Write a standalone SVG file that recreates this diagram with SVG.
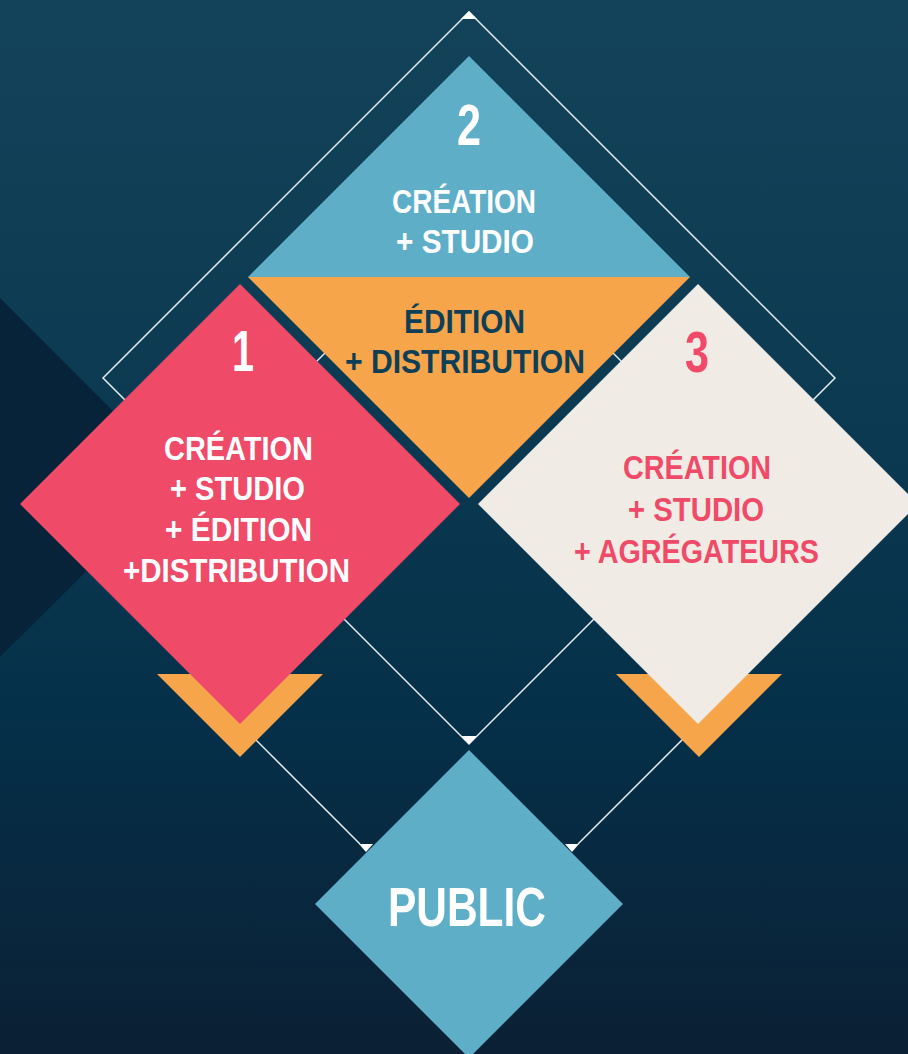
<svg xmlns="http://www.w3.org/2000/svg" width="908" height="1054" viewBox="0 0 908 1054">
  <defs>
    <linearGradient id="bg" x1="0" y1="0" x2="0" y2="1">
      <stop offset="0" stop-color="#13435a"/>
      <stop offset="0.45" stop-color="#0a3850"/>
      <stop offset="0.7" stop-color="#052f48"/>
      <stop offset="1" stop-color="#0b2034"/>
    </linearGradient>
    <style>
      .ln { fill: none; stroke: #e6edf1; stroke-width: 1.5; }
      .mk { fill: #ffffff; }
      .t { font-family: "Liberation Sans", Arial, sans-serif; font-weight: bold; text-anchor: middle; font-size: 34px; }
      .num { font-size: 57px; }
      .w { fill: #ffffff; }
      .d { fill: #0f3f57; }
      .p { fill: #ef4a68; }
    </style>
  </defs>

  <g id="background">
    <rect x="0" y="0" width="908" height="1054" fill="url(#bg)"/>
    <polygon points="0,298 180,478 0,657" fill="#072339"/>
  </g>

  <g id="connectors">
    <polygon class="ln" points="469,12 835,378 469,744 103,378"/>
    <line class="ln" x1="240" y1="724" x2="360" y2="844"/>
    <line class="ln" x1="698" y1="724" x2="578" y2="844"/>
    <line class="ln" x1="345" y1="333" x2="300" y2="378"/>
    <line class="ln" x1="593" y1="333" x2="638" y2="378"/>
    <polygon class="mk" points="461,19 477,19 469,11"/>
    <polygon class="mk" points="461,736 477,736 469,744"/>
    <polygon class="mk" points="359,844 373,844 366,852"/>
    <polygon class="mk" points="565,844 579,844 572,852"/>
  </g>

  <g id="node-2">
    <polygon points="469,56 690,277 248,277" fill="#5eaec8"/>
    <polygon points="248,277 690,277 469,498" fill="#f7a54a"/>
    <text class="t num w" x="469" y="145" textLength="24" lengthAdjust="spacingAndGlyphs">2</text>
    <text class="t w" x="464" y="213" textLength="144" lengthAdjust="spacingAndGlyphs">CRÉATION</text>
    <text class="t w" x="465" y="253" textLength="138" lengthAdjust="spacingAndGlyphs">+ STUDIO</text>
    <text class="t d" x="464.5" y="333" textLength="121" lengthAdjust="spacingAndGlyphs">ÉDITION</text>
    <text class="t d" x="465" y="373" textLength="240" lengthAdjust="spacingAndGlyphs">+ DISTRIBUTION</text>
  </g>

  <g id="node-1">
    <polygon points="157,674 323,674 240,757" fill="#f7a54a"/>
    <polygon points="240,284 460,504 240,724 20,504" fill="#ef4a68"/>
    <text class="t num w" x="243" y="371" textLength="22" lengthAdjust="spacingAndGlyphs">1</text>
    <text class="t w" x="238.5" y="460" textLength="149" lengthAdjust="spacingAndGlyphs">CRÉATION</text>
    <text class="t w" x="237.5" y="500" textLength="135" lengthAdjust="spacingAndGlyphs">+ STUDIO</text>
    <text class="t w" x="238.5" y="541" textLength="147" lengthAdjust="spacingAndGlyphs">+ ÉDITION</text>
    <text class="t w" x="236.5" y="582" textLength="227" lengthAdjust="spacingAndGlyphs">+DISTRIBUTION</text>
  </g>

  <g id="node-3">
    <polygon points="616,674 782,674 699,757" fill="#f7a54a"/>
    <polygon points="698,284 918,504 698,724 478,504" fill="#f0ebe4"/>
    <text class="t num p" x="697" y="372" textLength="24" lengthAdjust="spacingAndGlyphs">3</text>
    <text class="t p" x="697" y="479" textLength="148" lengthAdjust="spacingAndGlyphs">CRÉATION</text>
    <text class="t p" x="696" y="521" textLength="136" lengthAdjust="spacingAndGlyphs">+ STUDIO</text>
    <text class="t p" x="696.5" y="563" textLength="245" lengthAdjust="spacingAndGlyphs">+ AGRÉGATEURS</text>
  </g>

  <g id="node-public">
    <polygon points="469,750 623,904 469,1058 315,904" fill="#5eaec8"/>
    <text class="t w" x="467" y="926" style="font-size:55px" textLength="158" lengthAdjust="spacingAndGlyphs">PUBLIC</text>
  </g>
</svg>
